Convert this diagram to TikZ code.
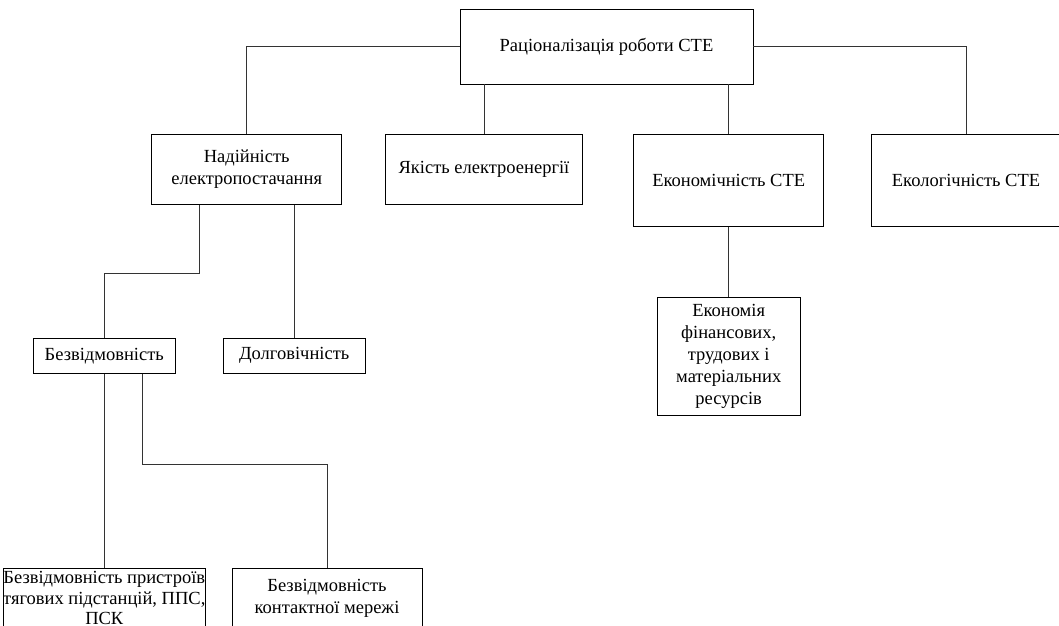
\documentclass[tikz,border=0pt]{standalone}
\usepackage{fontspec}
\setmainfont{Liberation Serif}
\usetikzlibrary{calc}

\begin{document}
\begin{tikzpicture}[x=1pt, y=-1pt,
    blok/.style={draw, line width=0.9pt, align=center, inner sep=0pt,
        font=\fontsize{18.5}{22}\selectfont},
    zv/.style={line width=0.9pt, black!80}]
    \clip (0,0) rectangle (1059,625);
    % rivni
    \node[blok, minimum width=293, minimum height=75] (rac) at (606.5,46.5) {Раціоналізація роботи СТЕ};
    \node[blok, minimum width=190, minimum height=70.7] (nad) at (246.7,169.3) {Надійність\\електропостачання};
    \node[blok, minimum width=197, minimum height=70.7] (yak) at (484,169.3) {Якість електроенергії};
    \node[blok, minimum width=190, minimum height=92.7] (ekon) at (728.7,180.3) {Економічність СТЕ};
    \node[blok, minimum width=190, minimum height=92.7] (ekol) at (966,180.3) {Екологічність СТЕ};
    \node[blok, minimum width=142.7, minimum height=118] (ekres) at (728.7,356.3) {Економія\\фінансових,\\трудових і\\матеріальних\\ресурсів};
    \node[blok, minimum width=142.7, minimum height=35] (bezv) at (104.3,355.8) {Безвідмовність};
    \node[blok, minimum width=142.3, minimum height=35] (dovg) at (294.2,355.8) {Долговічність};
    \node[blok, minimum width=190, minimum height=60, font=\fontsize{18.5}{20.5}\selectfont] (bpr) at (104.3,598.3) {Безвідмовність пристроїв\\тягових підстанцій, ППС,\\ПСК};
    \node[blok, minimum width=190, minimum height=60] (bkm) at (327,598.3) {Безвідмовність\\контактної мережі};
    % zvjazky
    \coordinate (k1) at (0,273.3);
    \coordinate (k2) at (0,464.3);
    \draw[zv] (rac.west) -| (nad.north);
    \draw[zv] (rac.east) -| (ekol.north);
    \draw[zv] (yak.north) -- (yak.north |- rac.south);
    \draw[zv] (ekon.north) -- (ekon.north |- rac.south);
    \draw[zv] (ekon.south) -- (ekres.north);
    \draw[zv] ($(nad.south west)!.25!(nad.south east)$) |- (k1 -| bezv.north) -- (bezv.north);
    \draw[zv] (dovg.north) -- (dovg.north |- nad.south);
    \draw[zv] (bezv.south) -- (bpr.north);
    \draw[zv] ($(bezv.south west)!.764!(bezv.south east)$) |- (k2 -| bkm.north) -- (bkm.north);
\end{tikzpicture}
\end{document}
